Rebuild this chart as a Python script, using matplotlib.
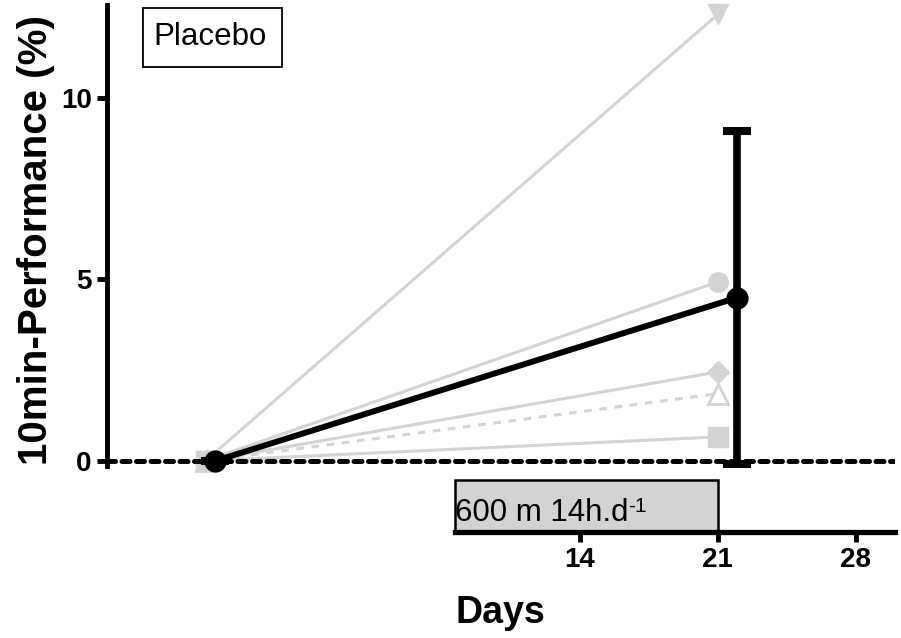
import numpy as np
import matplotlib.pyplot as plt
from matplotlib.patches import Rectangle

plt.rcParams['font.family'] = ['Liberation Sans', 'DejaVu Sans']

# data
days = [-5, 21]
subjects = {
    'tri_down': [0, 12.3],
    'circle': [0, 4.93],
    'diamond': [0, 2.45],
    'tri_open': [0, 1.85],
    'square': [0, 0.66],
}
mean_days = [-4.5, 22]
mean_vals = [0, 4.5]
mean_sd = [0, 4.6]
xticks = [14, 21, 28]
yticks = [0, 5, 10]
hypoxia = (7.66, 21)   # bar span in days
hyp_label = '600 m 14h.d'
hyp_sup = '-1'

gray = '#d3d3d3'

fig = plt.figure(figsize=(9.01, 6.38), dpi=100)
ax = fig.add_axes([107 / 901, 106 / 638, 788 / 901, 527 / 638])
ax.set_xlim(-10, 30)
ax.set_ylim(-1.96, 12.56)

# individual subjects
styles = {
    'tri_down': dict(marker='v', ls='-'),
    'circle': dict(marker='o', ls='-', ms=14),
    'diamond': dict(marker='D', ls='-', ms=11),
    'tri_open': dict(marker='^', ls=(0, (2.5, 2.5)), mfc='white', mew=2),
    'square': dict(marker='s', ls='-'),
}
for key, vals in subjects.items():
    st = dict(color=gray, lw=2.2, ms=15, mec=gray, clip_on=False, zorder=2)
    st.update(styles[key])
    ax.plot(days, vals, **st)

# zero line
ax.axhline(0, color='black', lw=3.6, ls=(0, (1.6, 1.3)), dash_capstyle='round', zorder=3)

# mean +/- SD
ax.errorbar(mean_days, mean_vals, yerr=mean_sd, color='black', lw=4.3, marker='o', ms=15,
            ecolor='black', elinewidth=5.5, capsize=10.4, capthick=5.8, zorder=5, clip_on=False)

# hypoxia bar
ax.bar(hypoxia[0], -0.52 - ax.get_ylim()[0], bottom=ax.get_ylim()[0], width=hypoxia[1] - hypoxia[0],
       align='edge', color=gray, edgecolor='black', lw=1.8, zorder=1, clip_on=False)
t = ax.text(hypoxia[0], -1.65, hyp_label, fontsize=22.5, ha='left', va='baseline', zorder=4)
ax.annotate(hyp_sup, xy=(1.0, 1.02), xycoords=t, fontsize=15, ha='left', va='top', zorder=4)

# placebo box
ax.add_patch(Rectangle((0.0457, 0.8824), 0.1764, 0.112, transform=ax.transAxes, fill=False,
                       ec='black', lw=1.3, clip_on=False))
ax.text(0.0584, 0.939, 'Placebo', transform=ax.transAxes, fontsize=22.5, ha='left', va='center')

# axes styling
for s in ['top', 'right']:
    ax.spines[s].set_visible(False)
ax.spines['left'].set_linewidth(3.5)
ax.spines['bottom'].set_linewidth(3.8)
ax.spines['left'].set_bounds(-0.15, 12.56)
ax.spines['bottom'].set_bounds(hypoxia[0], 30)
ax.set_xticks(xticks)
ax.set_yticks(yticks)
ax.tick_params(axis='both', direction='out', length=7, width=3.5, labelsize=20, pad=4)
for lab in ax.get_xticklabels() + ax.get_yticklabels():
    lab.set_fontweight('bold')

ax.set_ylabel('10min-Performance (%)', fontsize=29, fontweight='bold')
ax.yaxis.set_label_coords(-0.066, 0.554)
ax.set_xlabel('Days', fontsize=27, fontweight='bold', ha='left')
ax.xaxis.set_label_coords((455 - 107) / 788, -0.12)

fig.savefig('out.png', dpi=100)
